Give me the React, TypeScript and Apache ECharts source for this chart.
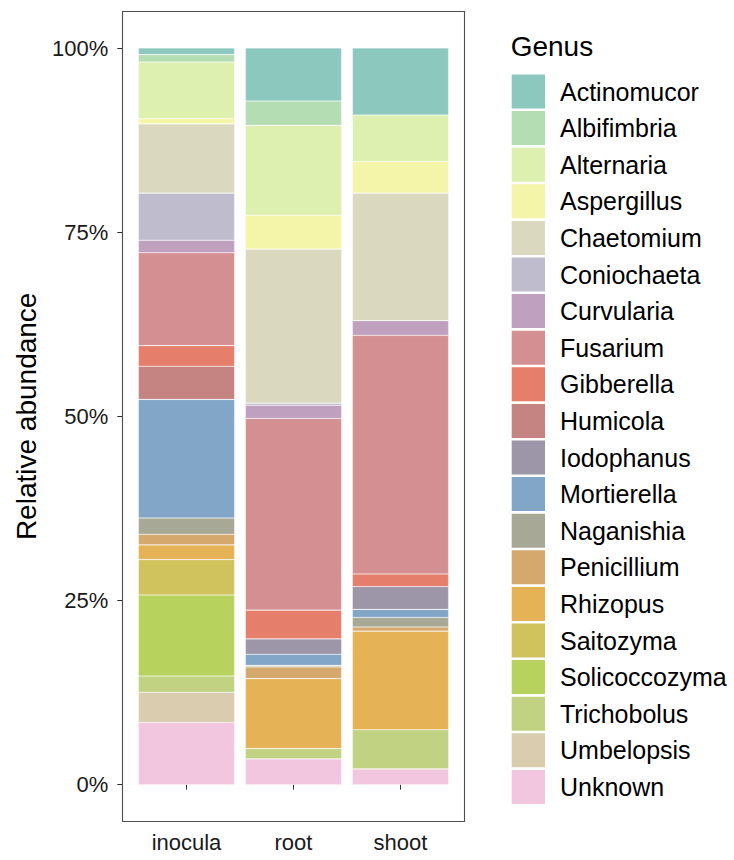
import React, { useEffect, useRef } from "react";
import * as echarts from "echarts";

const categories = ["inocula", "root", "shoot"];
const yTicks = [0, 25, 50, 75, 100];

const genera = [
  "Actinomucor", "Albifimbria", "Alternaria", "Aspergillus", "Chaetomium",
  "Coniochaeta", "Curvularia", "Fusarium", "Gibberella", "Humicola",
  "Iodophanus", "Mortierella", "Naganishia", "Penicillium", "Rhizopus",
  "Saitozyma", "Solicoccozyma", "Trichobolus", "Umbelopsis", "Unknown",
];

const colors = [
  "#8DC8BE", "#B5DDB4", "#DDF0AF", "#F5F5AA", "#DAD8BF",
  "#BFBDCD", "#BFA1BF", "#D48F92", "#E67E6C", "#C58382",
  "#9D96A9", "#82A6C8", "#A8A897", "#D5A86E", "#E6B256",
  "#D0C25C", "#B7D35E", "#C1D283", "#DACDAF", "#F3C6DF",
];

// values in % for [inocula, root, shoot]
const Actinomucor = [0.9, 7.2, 9.1];
const Albifimbria = [1.0, 3.3, 0];
const Alternaria = [7.7, 12.2, 6.3];
const Aspergillus = [0.7, 4.6, 4.3];
const Chaetomium = [9.4, 20.9, 17.3];
const Coniochaeta = [6.4, 0.3, 0];
const Curvularia = [1.7, 1.8, 2.0];
const Fusarium = [12.6, 26.0, 32.4];
const Gibberella = [2.8, 3.9, 1.7];
const Humicola = [4.5, 0, 0];
const Iodophanus = [0, 2.1, 3.1];
const Mortierella = [16.1, 1.5, 1.1];
const Naganishia = [2.2, 0.2, 1.3];
const Penicillium = [1.45, 1.6, 0.55];
const Rhizopus = [2.0, 9.5, 13.4];
const Saitozyma = [4.8, 0, 0];
const Solicoccozyma = [11.0, 0, 0];
const Trichobolus = [2.2, 1.4, 5.3];
const Umbelopsis = [4.1, 0, 0];
const Unknown = [8.45, 3.5, 2.15];

const values = [
  Actinomucor, Albifimbria, Alternaria, Aspergillus, Chaetomium,
  Coniochaeta, Curvularia, Fusarium, Gibberella, Humicola,
  Iodophanus, Mortierella, Naganishia, Penicillium, Rhizopus,
  Saitozyma, Solicoccozyma, Trichobolus, Umbelopsis, Unknown,
];

const FONT = "Liberation Sans";

export default function App() {
  const ref = useRef<HTMLDivElement>(null);
  useEffect(() => {
    if (!ref.current) return;
    const chart = echarts.init(ref.current, null, { renderer: "svg" });
    // bottom-most stack first: Unknown ... Actinomucor
    const series = genera
      .map((g, i) => ({
        name: g,
        type: "bar",
        stack: "total",
        barWidth: "90%",
        data: values[i].map((v) => (v > 0 ? v : null)),
        itemStyle: {
          color: colors[i],
          borderColor: "rgba(255,255,255,0.35)",
          borderWidth: 0.6,
        },
        emphasis: { disabled: true },
      }))
      .reverse();

    chart.setOption({
      animation: false,
      textStyle: { fontFamily: FONT },
      grid: { left: 133, right: 280, top: 48, bottom: 75.3, containLabel: false },
      xAxis: {
        type: "category",
        data: categories,
        offset: 37,
        axisLine: { show: false },
        axisTick: { show: true, length: 5, alignWithLabel: true, lineStyle: { color: "#333", width: 1 } },
        axisLabel: { fontSize: 22, color: "#1a1a1a", margin: 10, fontFamily: FONT },
      },
      yAxis: {
        type: "value",
        min: 0,
        max: 100,
        interval: 25,
        offset: 10.7,
        name: "Relative abundance",
        nameLocation: "middle",
        nameGap: 82,
        nameTextStyle: { fontSize: 28, color: "#000", fontFamily: FONT },
        splitLine: { show: false },
        axisLine: { show: false },
        axisTick: { show: true, length: 5, lineStyle: { color: "#333", width: 1 } },
        axisLabel: {
          fontSize: 22,
          color: "#1a1a1a",
          margin: 14,
          fontFamily: FONT,
          formatter: (v: number) => (yTicks.includes(v) ? v + "%" : ""),
        },
      },
      legend: {
        orient: "vertical",
        left: 506.7,
        top: 69.5,
        padding: 5,
        itemWidth: 33.3,
        itemHeight: 34,
        itemGap: 2.6,
        icon: "rect",
        data: genera,
        selectedMode: false,
        itemStyle: { borderWidth: 0 },
        textStyle: { fontSize: 25, color: "#000", fontFamily: FONT, padding: [0, 0, 0, 10] },
      },
      graphic: [
        {
          type: "rect",
          shape: { x: 122.5, y: 11.5, width: 342, height: 810 },
          style: { fill: "none", stroke: "#4d4d4d", lineWidth: 1.1 },
          silent: true,
        },
        {
          type: "text",
          x: 510.7,
          y: 46,
          style: { text: "Genus", fontSize: 28, fill: "#000", fontFamily: FONT, verticalAlign: "middle", align: "left" },
          silent: true,
        },
      ],
      series,
    });
    return () => chart.dispose();
  }, []);
  return (
    <div
      ref={ref}
      style={{ position: "absolute", left: 0, top: 0, width: 734, height: 860, background: "#fff" }}
    />
  );
}
